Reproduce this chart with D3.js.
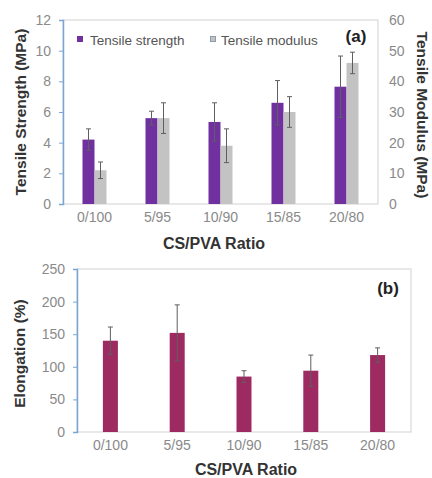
<!DOCTYPE html>
<html><head><meta charset="utf-8">
<script src="https://cdn.jsdelivr.net/npm/d3@7"></script>
<style>body{margin:0;background:#fff}svg{display:block}</style>
</head><body>
<svg id="c" width="432" height="478"></svg>
<script>
const categories = ["0/100","5/95","10/90","15/85","20/80"];
const strength = [4.2, 5.6, 5.35, 6.6, 7.65];
const strengthErr = [0.7, 0.45, 1.25, 1.45, 2.0];
const modulus = [11, 28, 19, 30, 46];
const modulusErr = [2.7, 5, 5.5, 5, 3.5];
const elongation = [140, 152, 85, 94, 118];
const elongationErr = [21, 43, 9, 24, 11];
const ticksStrength = [0,2,4,6,8,10,12];
const ticksModulus = [0,10,20,30,40,50,60];
const ticksElong = [0,50,100,150,200,250];

const svg = d3.select("#c");
const font = "Arial, 'Liberation Sans', sans-serif";
const purple = "#7030A0", grey = "#C3C3C3", maroon = "#9E2A62";
const tickCol = "#8a8a8a", axisBlue = "#7aa6d6", border = "#d9d9d9", errCol = "#5f5f5f";
const tickFs = "14px", titleFs = "15.5px";

// ---------- Chart (a) ----------
const A = {l:63, r:378, t:20, b:204};
const xa = d3.scaleBand().domain(categories).range([A.l, A.r]);
const yl = d3.scaleLinear().domain([0,12]).range([A.b, A.t]);
const yr = d3.scaleLinear().domain([0,60]).range([A.b, A.t]);
const ga = svg.append("g");
ga.append("rect").attr("x",A.l).attr("y",A.t).attr("width",A.r-A.l).attr("height",A.b-A.t)
  .attr("fill","none").attr("stroke",border).attr("stroke-width",1.2);
const bw = 12;
categories.forEach((c,i)=>{
  const cx = xa(c)+xa.bandwidth()/2;
  ga.append("rect").attr("x",cx-bw).attr("width",bw).attr("y",yl(strength[i])).attr("height",A.b-yl(strength[i])).attr("fill",purple);
  ga.append("rect").attr("x",cx).attr("width",bw).attr("y",yr(modulus[i])).attr("height",A.b-yr(modulus[i])).attr("fill",grey);
  const e1x = cx-bw/2, e2x = cx+bw/2;
  [[e1x, yl(strength[i]+strengthErr[i]), yl(strength[i]-strengthErr[i])],
   [e2x, yr(modulus[i]+modulusErr[i]), yr(modulus[i]-modulusErr[i])]].forEach(([x,y1,y2])=>{
    ga.append("line").attr("x1",x).attr("x2",x).attr("y1",y1).attr("y2",y2).attr("stroke",errCol).attr("stroke-width",1);
    ga.append("line").attr("x1",x-2.5).attr("x2",x+2.5).attr("y1",y1).attr("y2",y1).attr("stroke",errCol).attr("stroke-width",1);
    ga.append("line").attr("x1",x-2.5).attr("x2",x+2.5).attr("y1",y2).attr("y2",y2).attr("stroke",errCol).attr("stroke-width",1);
  });
});
const axL = ga.append("g").attr("transform",`translate(${A.l},0)`).call(d3.axisLeft(yl).tickValues(ticksStrength).tickSize(4).tickPadding(8));
axL.select(".domain").attr("stroke",axisBlue).attr("stroke-width",1.5);
axL.selectAll(".tick line").attr("stroke",axisBlue);
axL.selectAll("text").attr("fill",tickCol).style("font-family",font).style("font-size",tickFs);
const axR = ga.append("g").attr("transform",`translate(${A.r},0)`).call(d3.axisRight(yr).tickValues(ticksModulus).tickSize(0).tickPadding(11));
axR.select(".domain").remove();
axR.selectAll("text").attr("fill",tickCol).style("font-family",font).style("font-size",tickFs);
const axX = ga.append("g").attr("transform",`translate(0,${A.b})`).call(d3.axisBottom(xa).tickSize(0).tickPadding(8));
axX.select(".domain").remove();
axX.selectAll("text").attr("fill",tickCol).style("font-family",font).style("font-size",tickFs);
ga.append("text").attr("transform",`translate(26,${(A.t+A.b)/2}) rotate(-90)`).attr("text-anchor","middle")
  .attr("font-family",font).attr("font-weight","bold").attr("font-size",titleFs).attr("fill","#333").text("Tensile Strength (MPa)");
ga.append("text").attr("transform",`translate(417,${(A.t+A.b)/2+3}) rotate(90)`).attr("text-anchor","middle")
  .attr("font-family",font).attr("font-weight","bold").attr("font-size",titleFs).attr("fill","#333").text("Tensile Modulus (MPa)");
ga.append("text").attr("x",214).attr("y",249).attr("text-anchor","middle")
  .attr("font-family",font).attr("font-weight","bold").attr("font-size","16px").attr("fill","#333").text("CS/PVA Ratio");
ga.append("text").attr("x",356).attr("y",42).attr("text-anchor","middle")
  .attr("font-family",font).attr("font-weight","bold").attr("font-size","17px").attr("fill","#222").text("(a)");
ga.append("rect").attr("x",77).attr("y",36).attr("width",6).attr("height",6).attr("fill",purple);
ga.append("text").attr("x",90).attr("y",45).attr("font-family",font).attr("font-size","13.5px").attr("fill","#555").text("Tensile strength");
ga.append("rect").attr("x",210.5).attr("y",36.5).attr("width",5).attr("height",5).attr("fill",grey).attr("stroke","#8c9bb0").attr("stroke-width",1);
ga.append("text").attr("x",221).attr("y",45).attr("font-family",font).attr("font-size","13.5px").attr("fill","#555").text("Tensile modulus");

// ---------- Chart (b) ----------
const B = {l:77, r:411, t:269, b:432};
const xb = d3.scaleBand().domain(categories).range([B.l, B.r]);
const yb = d3.scaleLinear().domain([0,250]).range([B.b, B.t]);
const gb = svg.append("g");
gb.append("rect").attr("x",B.l).attr("y",B.t).attr("width",B.r-B.l).attr("height",B.b-B.t)
  .attr("fill","none").attr("stroke",border).attr("stroke-width",1.2);
const bw2 = 15;
categories.forEach((c,i)=>{
  const cx = xb(c)+xb.bandwidth()/2;
  gb.append("rect").attr("x",cx-bw2/2).attr("width",bw2).attr("y",yb(elongation[i])).attr("height",B.b-yb(elongation[i])).attr("fill",maroon);
  const y1 = yb(elongation[i]+elongationErr[i]), y2 = yb(elongation[i]-elongationErr[i]);
  gb.append("line").attr("x1",cx).attr("x2",cx).attr("y1",y1).attr("y2",y2).attr("stroke",errCol).attr("stroke-width",1);
  gb.append("line").attr("x1",cx-2.5).attr("x2",cx+2.5).attr("y1",y1).attr("y2",y1).attr("stroke",errCol).attr("stroke-width",1);
  gb.append("line").attr("x1",cx-2.5).attr("x2",cx+2.5).attr("y1",y2).attr("y2",y2).attr("stroke",errCol).attr("stroke-width",1);
});
const bL = gb.append("g").attr("transform",`translate(${B.l},0)`).call(d3.axisLeft(yb).tickValues(ticksElong).tickSize(4).tickPadding(8));
bL.select(".domain").attr("stroke",axisBlue).attr("stroke-width",1.5);
bL.selectAll(".tick line").attr("stroke",axisBlue);
bL.selectAll("text").attr("fill",tickCol).style("font-family",font).style("font-size",tickFs);
const bX = gb.append("g").attr("transform",`translate(0,${B.b})`).call(d3.axisBottom(xb).tickSize(0).tickPadding(8));
bX.select(".domain").remove();
bX.selectAll("text").attr("fill",tickCol).style("font-family",font).style("font-size",tickFs);
gb.append("text").attr("transform",`translate(25,${(B.t+B.b)/2+3}) rotate(-90)`).attr("text-anchor","middle")
  .attr("font-family",font).attr("font-weight","bold").attr("font-size",titleFs).attr("fill","#333").text("Elongation (%)");
gb.append("text").attr("x",246).attr("y",475).attr("text-anchor","middle")
  .attr("font-family",font).attr("font-weight","bold").attr("font-size","16px").attr("fill","#333").text("CS/PVA Ratio");
gb.append("text").attr("x",388).attr("y",294).attr("text-anchor","middle")
  .attr("font-family",font).attr("font-weight","bold").attr("font-size","17px").attr("fill","#222").text("(b)");
</script>
</body></html>
